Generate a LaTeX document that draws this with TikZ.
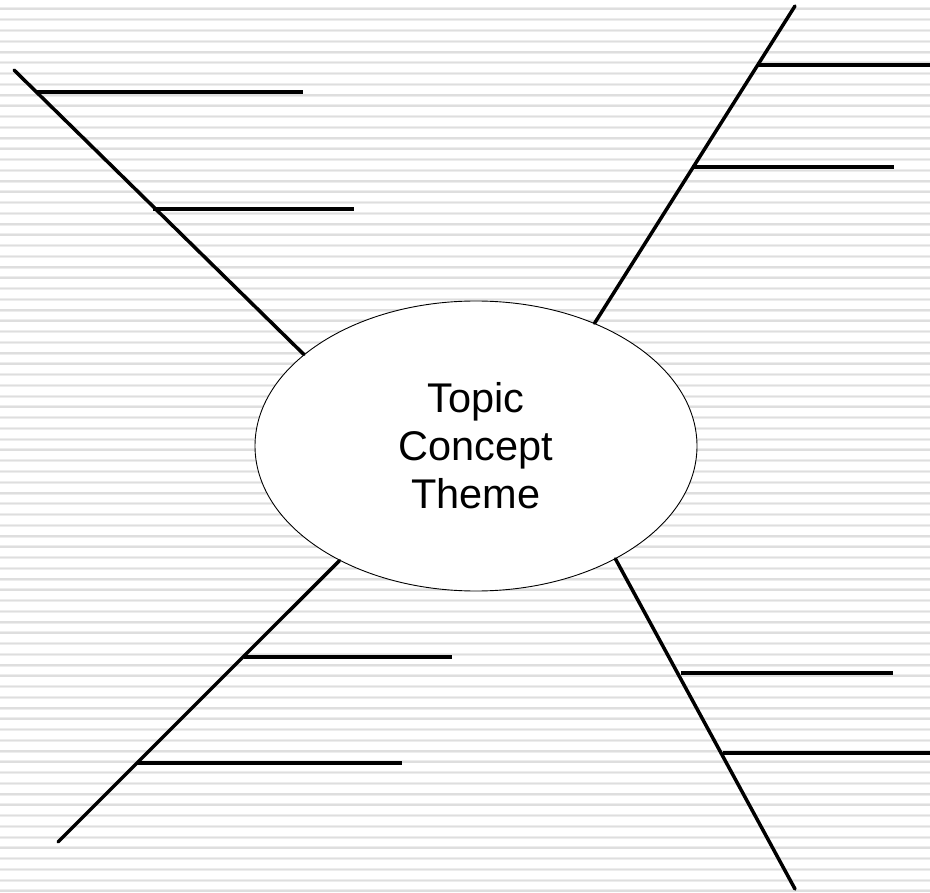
\documentclass[tikz,border=0pt]{standalone}
\usepackage{fontspec}
\setmainfont{Liberation Sans}
\usetikzlibrary{shapes.geometric}
\tikzset{
  stripeouter/.style={draw=black!7, line width=3pt},
  stripeinner/.style={draw=black!13, line width=1.4pt},
  spoke/.style={draw=black, line width=3.5pt, line cap=round},
  rung/.style={draw=black, line width=3.5pt},
  topic/.style={ellipse, draw=black, line width=0.9pt, fill=white,
    minimum width=442pt, minimum height=290pt, inner sep=0pt,
    align=center, font=\fontsize{41.5}{48}\selectfont}
}
\begin{document}
\begin{tikzpicture}[x=1pt,y=-1pt]
\useasboundingbox (0,0) rectangle (930,893);
\fill[white] (0,0) rectangle (930,893);
\foreach \k in {-1,...,82}{
  \draw[stripeouter] (0,{9+10.756*\k}) -- (930,{9+10.756*\k});
  \draw[stripeinner] (0,{9+10.756*\k}) -- (930,{9+10.756*\k});
}
\node[topic] (ell) at (476,446) {Topic\\Concept\\Theme};

% upper left
\coordinate (ulend) at (14,70);
\coordinate (ula) at (36,92);   \coordinate (ulaE) at (303,92);
\coordinate (ulb) at (153,209); \coordinate (ulbE) at (354,209);
\draw[spoke] (ulend) -- (ell.152.8);
\draw[rung] (ula) -- (ulaE);
\draw[rung] (ulb) -- (ulbE);

% upper right
\coordinate (urend) at (795,6);
\coordinate (ura) at (757,65);  \coordinate (uraE) at (932,65);
\coordinate (urb) at (692,167); \coordinate (urbE) at (894,167);
\draw[spoke] (ell.46.4) -- (urend);
\draw[rung] (ura) -- (uraE);
\draw[rung] (urb) -- (urbE);

% lower left
\coordinate (llend) at (58,842);
\coordinate (lla) at (244,657); \coordinate (llaE) at (452,657);
\coordinate (llb) at (137,763); \coordinate (llbE) at (402,763);
\draw[spoke] (ell.220.3) -- (llend);
\draw[rung] (lla) -- (llaE);
\draw[rung] (llb) -- (llbE);

% lower right
\coordinate (lrend) at (795,889);
\coordinate (lra) at (681,673); \coordinate (lraE) at (893,673);
\coordinate (lrb) at (723,753); \coordinate (lrbE) at (932,753);
\draw[spoke] (ell.321.9) -- (lrend);
\draw[rung] (lra) -- (lraE);
\draw[rung] (lrb) -- (lrbE);
\end{tikzpicture}
\end{document}
